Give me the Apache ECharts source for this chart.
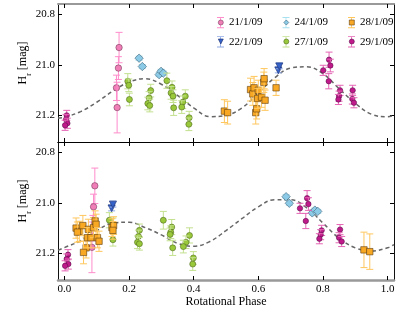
<!DOCTYPE html>
<html>
<head>
<meta charset="utf-8">
<script src="https://cdn.jsdelivr.net/npm/echarts@6/dist/echarts.min.js"></script>
<style>
  html, body { margin: 0; padding: 0; background: #fff; }
  #chart { width: 399px; height: 320px; }
</style>
</head>
<body>
<div id="chart"></div>
<script>
// [phase, mag, error] per night, upper panel
var top21 = [[0.169, 20.932, 0.06], [0.167, 21.013, 0.045], [0.161, 21.091, 0.05], [0.163, 21.169, 0.1]];
var top22 = [[0.662, 21.020, 0.012], [0.665, 21.004, 0.012]];
var top24 = [[0.231, 20.974, 0.008], [0.241, 21.007, 0.008], [0.293, 21.039, 0.008], [0.299, 21.026, 0.008], [0.306, 21.033, 0.008]];
var top27 = [[0.196, 21.065, 0.03], [0.199, 21.081, 0.025], [0.201, 21.137, 0.025],
    [0.267, 21.102, 0.025], [0.262, 21.131, 0.025], [0.258, 21.153, 0.025], [0.264, 21.161, 0.025],
    [0.317, 21.063, 0.03], [0.333, 21.089, 0.025], [0.330, 21.111, 0.025], [0.336, 21.124, 0.025], [0.338, 21.170, 0.03],
    [0.374, 21.124, 0.025], [0.366, 21.148, 0.025], [0.363, 21.167, 0.025], [0.386, 21.209, 0.025], [0.385, 21.235, 0.025]];
var top28 = [[0.495, 21.183, 0.045], [0.505, 21.189, 0.045], [0.576, 21.098, 0.045], [0.583, 21.115, 0.045],
    [0.587, 21.091, 0.045], [0.592, 21.189, 0.045], [0.595, 21.174, 0.04], [0.600, 21.101, 0.04],
    [0.598, 21.133, 0.04], [0.610, 21.128, 0.04], [0.617, 21.069, 0.04], [0.618, 21.055, 0.04],
    [0.621, 21.140, 0.04], [0.655, 21.091, 0.03]];
var top29 = [[0.007, 21.200, 0.02], [0.005, 21.216, 0.02], [0.009, 21.231, 0.02], [0.002, 21.239, 0.02],
    [0.801, 21.022, 0.02], [0.819, 20.980, 0.03], [0.823, 21.003, 0.025], [0.818, 21.065, 0.03],
    [0.853, 21.101, 0.02], [0.850, 21.124, 0.02], [0.848, 21.137, 0.02],
    [0.892, 21.101, 0.02], [0.891, 21.135, 0.02], [0.896, 21.150, 0.02]];

// lower panel
var bot21 = [[0.094, 20.933, 0.07], [0.090, 21.016, 0.05], [0.088, 21.100, 0.05], [0.085, 21.176, 0.1]];
var bot22 = [[0.146, 21.020, 0.012], [0.150, 21.005, 0.012]];
var bot24 = [[0.686, 20.976, 0.008], [0.696, 21.002, 0.008], [0.767, 21.040, 0.008], [0.775, 21.029, 0.008], [0.784, 21.034, 0.008]];
var bot27 = [[0.139, 21.069, 0.03], [0.150, 21.085, 0.025], [0.150, 21.146, 0.025],
    [0.232, 21.109, 0.025], [0.229, 21.133, 0.025], [0.226, 21.156, 0.025], [0.232, 21.162, 0.025],
    [0.306, 21.069, 0.035], [0.332, 21.096, 0.03], [0.329, 21.116, 0.025], [0.327, 21.125, 0.025], [0.335, 21.178, 0.03],
    [0.387, 21.129, 0.03], [0.376, 21.156, 0.025], [0.368, 21.173, 0.025], [0.399, 21.218, 0.025], [0.397, 21.242, 0.025]];
var bot28 = [[0.036, 21.100, 0.04], [0.046, 21.113, 0.04], [0.040, 21.116, 0.04], [0.057, 21.090, 0.04],
    [0.067, 21.178, 0.04], [0.059, 21.196, 0.045], [0.074, 21.105, 0.04], [0.071, 21.138, 0.04],
    [0.082, 21.138, 0.04], [0.090, 21.098, 0.04], [0.095, 21.072, 0.04], [0.098, 21.085, 0.04],
    [0.102, 21.138, 0.04], [0.107, 21.152, 0.04], [0.147, 21.098, 0.035], [0.152, 21.090, 0.035],
    [0.150, 21.109, 0.035], [0.927, 21.186, 0.07], [0.945, 21.193, 0.07]];
var bot29 = [[0.011, 21.205, 0.02], [0.007, 21.222, 0.02], [0.012, 21.242, 0.02], [0.002, 21.249, 0.02],
    [0.729, 21.022, 0.02], [0.751, 20.982, 0.03], [0.755, 21.005, 0.025], [0.747, 21.072, 0.03],
    [0.796, 21.109, 0.02], [0.793, 21.126, 0.02], [0.789, 21.142, 0.02],
    [0.853, 21.106, 0.02], [0.850, 21.138, 0.02], [0.858, 21.153, 0.02]];

// model light curves (dashed)
var curvePhase = [-0.02, 0.0, 0.05, 0.1, 0.15, 0.2, 0.25, 0.3, 0.35, 0.4, 0.45, 0.5, 0.55, 0.6, 0.65, 0.7, 0.75, 0.8, 0.85, 0.9, 0.95, 1.0, 1.02];
var curveTop = [21.21, 21.207, 21.185, 21.148, 21.104, 21.068, 21.055, 21.077, 21.121, 21.17, 21.205, 21.2, 21.17, 21.111, 21.052, 21.013, 21.008, 21.035, 21.094, 21.152, 21.195, 21.205, 21.2];
var curveBot = [21.188, 21.177, 21.15, 21.11, 21.08, 21.077, 21.098, 21.127, 21.16, 21.172, 21.153, 21.11, 21.062, 21.016, 20.988, 20.988, 21.02, 21.08, 21.14, 21.178, 21.19, 21.178, 21.165];

var nights = ['21/1/09', '22/1/09', '24/1/09', '27/1/09', '28/1/09', '29/1/09'];
var xTicks = [0, 0.2, 0.4, 0.6, 0.8, 1.0];
var yTicks = [20.8, 21.0, 21.2];

var font = 'Liberation Serif';
var styles = {
    '21/1/09': { fill: '#f07fb8', edge: '#7a3f60', bar: '#ff8ccb', shape: 'circle', size: 3.2 },
    '22/1/09': { fill: '#3462c8', edge: '#1f2f70', bar: '#8eaae6', shape: 'tri', size: 3.6 },
    '24/1/09': { fill: '#8ccbe8', edge: '#3d5f73', bar: '#a8e0f0', shape: 'diamond', size: 4.2 },
    '27/1/09': { fill: '#99c83a', edge: '#4f6a1e', bar: '#c3e08e', shape: 'circle', size: 3.0 },
    '28/1/09': { fill: '#f8a823', edge: '#5e3d10', bar: '#ffc75e', shape: 'square', size: 3.2 },
    '29/1/09': { fill: '#c0198a', edge: '#5e0f4d', bar: '#e565b4', shape: 'circle', size: 2.7 }
};

function markerShape(st, cx, cy) {
    var s = st.size;
    var style = { fill: st.fill, stroke: st.edge, lineWidth: 0.6 };
    if (st.shape === 'circle') return { type: 'circle', shape: { cx: cx, cy: cy, r: s }, style: style };
    if (st.shape === 'square') return { type: 'rect', shape: { x: cx - s, y: cy - s, width: 2 * s, height: 2 * s }, style: style };
    if (st.shape === 'diamond') return { type: 'polygon', shape: { points: [[cx, cy - s], [cx + s, cy], [cx, cy + s], [cx - s, cy]] }, style: style };
    return { type: 'polygon', shape: { points: [[cx - s, cy - s * 0.8], [cx + s, cy - s * 0.8], [cx, cy + s * 1.1]] }, style: style };
}

function errSeries(name, data, axisIdx) {
    var st = styles[name];
    return {
        type: 'custom',
        name: name,
        xAxisIndex: axisIdx,
        yAxisIndex: axisIdx,
        data: data,
        z: 3,
        renderItem: function (params, api) {
            var x = api.value(0), y = api.value(1), e = api.value(2);
            var p = api.coord([x, y]);
            var a = api.coord([x, y - e]);
            var b = api.coord([x, y + e]);
            var lst = { stroke: st.bar, lineWidth: 1 };
            return {
                type: 'group',
                children: [
                    { type: 'line', shape: { x1: p[0], y1: a[1], x2: p[0], y2: b[1] }, style: lst },
                    { type: 'line', shape: { x1: p[0] - 3.5, y1: a[1], x2: p[0] + 3.5, y2: a[1] }, style: lst },
                    { type: 'line', shape: { x1: p[0] - 3.5, y1: b[1], x2: p[0] + 3.5, y2: b[1] }, style: lst },
                    markerShape(st, p[0], p[1])
                ]
            };
        }
    };
}

function curveSeries(vals, axisIdx) {
    return {
        type: 'line',
        xAxisIndex: axisIdx,
        yAxisIndex: axisIdx,
        data: curvePhase.map(function (p, i) { return [p, vals[i]]; }),
        smooth: 0.4,
        showSymbol: false,
        silent: true,
        z: 2,
        lineStyle: { color: '#666', width: 1.5, type: [4, 3] }
    };
}

function xAx(grid, pos, show, lineColor, lineWidth) {
    return {
        type: 'value', gridIndex: grid, position: pos, min: -0.02, max: 1.02,
        axisLine: { show: true, onZero: false, lineStyle: { color: lineColor, width: lineWidth } },
        axisTick: { show: true, inside: true, length: 4, customValues: xTicks, lineStyle: { color: '#000' } },
        axisLabel: { show: show, customValues: xTicks, margin: 4, fontFamily: font, fontSize: 11, color: '#000',
            formatter: function (v) { return v.toFixed(1); } },
        splitLine: { show: false }
    };
}

function yAx(grid, pos, show) {
    return {
        type: 'value', gridIndex: grid, position: pos, min: 20.76, max: 21.305, inverse: true,
        axisLine: { show: true, onZero: false, lineStyle: { color: '#111', width: 1 } },
        axisTick: { show: true, inside: true, length: 4, customValues: yTicks, lineStyle: { color: '#000' } },
        axisLabel: { show: show, customValues: yTicks, margin: 3, fontFamily: font, fontSize: 11, color: '#000',
            formatter: function (v) { return v.toFixed(1); } },
        splitLine: { show: false }
    };
}

var bottomX = xAx(1, 'bottom', true, '#999', 2.5);
bottomX.name = 'Rotational Phase';
bottomX.nameLocation = 'middle';
bottomX.nameGap = 15;
bottomX.nameTextStyle = { fontFamily: font, fontSize: 12, color: '#000' };

// legend icons: an error bar glyph layered under the marker glyph
var ibeam = 'path://M0,0H10V1.3H5.6V14.7H10V16H0V14.7H4.4V1.3H0Z';
var icons = {
    circle: 'path://M5,0A5,5,0,1,1,5,10A5,5,0,1,1,5,0Z',
    square: 'path://M0,0H10V10H0Z',
    diamond: 'path://M5,0L10,5L5,10L0,5Z',
    tri: 'path://M0,0L10,0L5,10Z'
};
var columns = [['21/1/09', '22/1/09'], ['24/1/09', '27/1/09'], ['28/1/09', '29/1/09']];
var colLeft = [212, 277.5, 343];
var legends = [];
columns.forEach(function (col, c) {
    legends.push({
        orient: 'vertical', left: colLeft[c], top: 12, itemWidth: 7, itemHeight: 14, itemGap: 8,
        selectedMode: false,
        data: col.map(function (n) { return { name: n, icon: ibeam, itemStyle: { color: styles[n].bar, borderWidth: 0 } }; }),
        textStyle: { fontFamily: font, fontSize: 11, color: '#000' }
    });
    legends.push({
        orient: 'vertical', left: colLeft[c] + 1, top: 12, itemWidth: 5, itemHeight: 14, itemGap: 8,
        selectedMode: false,
        data: col.map(function (n) {
            return { name: n, icon: icons[styles[n].shape],
                itemStyle: { color: styles[n].fill, borderColor: styles[n].edge, borderWidth: 0.6 } };
        }),
        textStyle: { fontFamily: font, fontSize: 11, color: 'rgba(0,0,0,0)' }
    });
});

var series = [curveSeries(curveTop, 0), curveSeries(curveBot, 1)];
[top21, top22, top24, top27, top28, top29].forEach(function (d, i) { series.push(errSeries(nights[i], d, 0)); });
[bot21, bot22, bot24, bot27, bot28, bot29].forEach(function (d, i) { series.push(errSeries(nights[i], d, 1)); });

var yName = {
    text: '{h|H}{s|r}{h| [mag]}',
    rich: {
        h: { fontFamily: font, fontSize: 12, color: '#000', lineHeight: 16, verticalAlign: 'top' },
        s: { fontFamily: font, fontSize: 8, color: '#000', lineHeight: 16, verticalAlign: 'bottom' }
    },
    align: 'center', verticalAlign: 'middle'
};

var option = {
    animation: false,
    backgroundColor: '#fff',
    grid: [
        { left: 58, right: 5, top: 4, height: 138 },
        { left: 58, right: 5, top: 142, height: 138 }
    ],
    xAxis: [
        xAx(0, 'bottom', false, '#000', 1.2),
        xAx(1, 'top', false, '#000', 1.2),
        xAx(0, 'top', false, '#999', 2),
        bottomX
    ],
    yAxis: [
        yAx(0, 'left', true),
        yAx(1, 'left', true),
        yAx(0, 'right', false),
        yAx(1, 'right', false)
    ],
    legend: legends,
    graphic: [
        { type: 'text', x: 25, y: 63, rotation: Math.PI / 2, style: yName },
        { type: 'text', x: 25, y: 201, rotation: Math.PI / 2, style: yName }
    ],
    series: series
};

var chart = echarts.init(document.getElementById('chart'));
chart.setOption(option);
</script>
</body>
</html>
